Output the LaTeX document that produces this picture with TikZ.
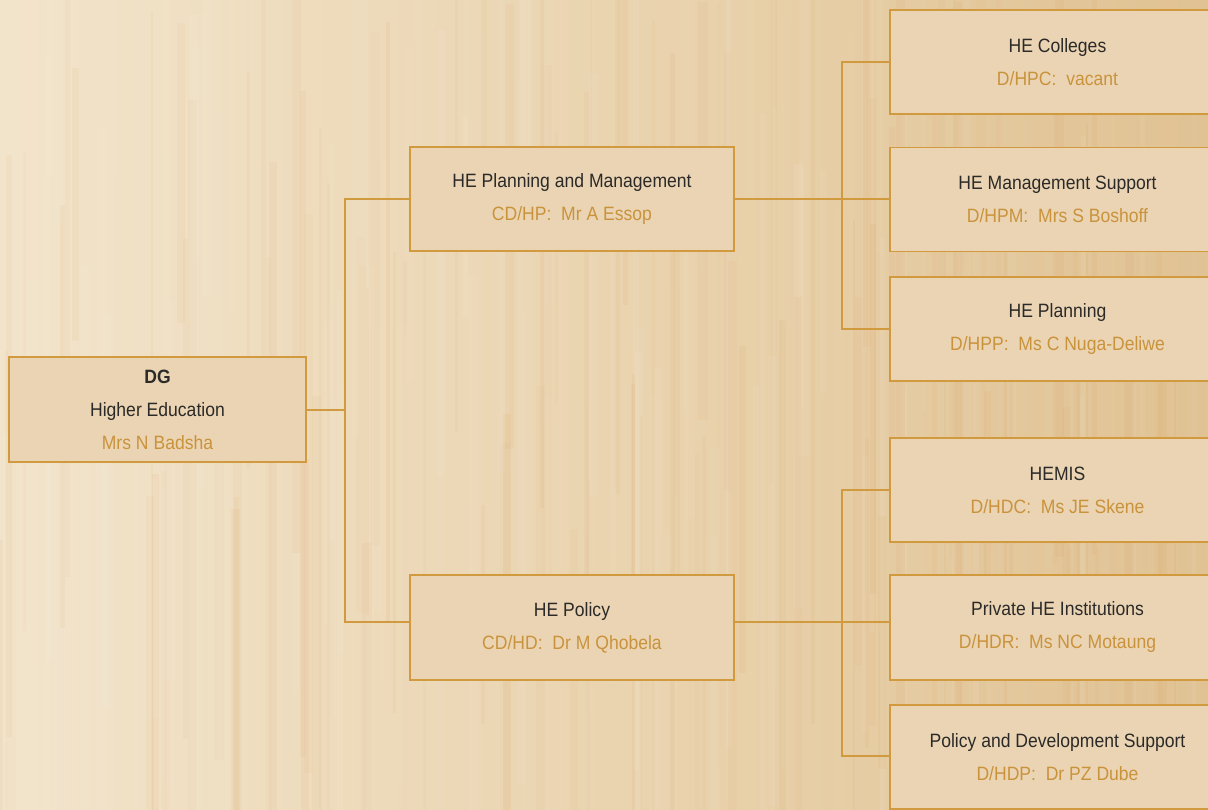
\documentclass[tikz,border=0pt]{standalone}
\usepackage{fontspec}
\setmainfont{Liberation Sans}[FakeStretch=0.91]
\definecolor{bord}{HTML}{D29A3E}
\definecolor{boxfill}{HTML}{EBD4B3}
\definecolor{nametxt}{HTML}{C9933C}
\definecolor{darktxt}{HTML}{2B2A28}
\definecolor{bgleft}{HTML}{F2E4CB}
\definecolor{bgmid}{HTML}{EAD4B0}
\definecolor{bgright}{HTML}{E0C293}
\newcommand{\nm}[1]{\textcolor{nametxt}{#1}}
\begin{document}
\begin{tikzpicture}[x=1pt,y=-1pt,
  box/.style={draw=bord, line width=1.3pt, fill=boxfill, inner sep=0pt,
    minimum width=#1, minimum height=104pt, align=center, text=darktxt,
    font=\fontsize{19.3}{33}\selectfont},
  conn/.style={draw=bord, line width=1.3pt}]
\useasboundingbox (0,0) rectangle (1208,809);
\clip (0,0) rectangle (1208,809);
\shade[left color=bgleft, right color=bgright, middle color=bgmid] (0,0) rectangle (1208,809);
\pgfmathsetseed{7}
\foreach \i in {1,...,260}{
  \pgfmathsetmacro{\xx}{rnd*1208}
  \pgfmathsetmacro{\ww}{2+rnd*8}
  \pgfmathsetmacro{\oo}{0.02+rnd*0.05}
  \pgfmathsetmacro{\yy}{rnd*700}
  \pgfmathsetmacro{\hh}{200+rnd*700}
  \pgfmathparse{rnd>0.5 ? 1 : 0}
  \ifnum\pgfmathresult=1
    \fill[white, opacity=\oo] (\xx,\yy-150) rectangle ++(\ww,\hh);
  \else
    \fill[brown!70!orange, opacity=\oo] (\xx,\yy-150) rectangle ++(\ww,\hh);
  \fi
}
% nodes
\node[box=297pt, minimum height=105pt] (dg) at (157.5,409.5) {\textbf{DG}\\Higher Education\\\nm{Mrs N Badsha}};
\node[box=324pt] (plan) at (572,199) {HE Planning and Management\\\nm{CD/HP:\ \ Mr A Essop}};
\node[box=324pt, minimum height=105pt] (pol) at (572,627.5) {HE Policy\\\nm{CD/HD:\ \ Dr M Qhobela}};
\node[box=335pt] (col) at (1057.5,62) {HE Colleges\\\nm{D/HPC:\ \ vacant}};
\node[box=335pt] (mgs) at (1057.5,199.5) {HE Management Support\\\nm{D/HPM:\ \ Mrs S Boshoff}};
\node[box=335pt] (hpl) at (1057.5,329) {HE Planning\\\nm{D/HPP:\ \ Ms C Nuga-Deliwe}};
\node[box=335pt] (hem) at (1057.5,490) {HEMIS\\\nm{D/HDC:\ \ Ms JE Skene}};
\node[box=335pt, minimum height=105pt] (pri) at (1057.5,627.5) {Private HE Institutions\\\nm{D/HDR:\ \ Ms NC Motaung}};
\node[box=335pt] (pds) at (1057.5,757) {Policy and Development Support\\\nm{D/HDP:\ \ Dr PZ Dube}};
% junctions
\coordinate (j1) at (345,410);
\coordinate (j2) at (842,199);
\coordinate (j3) at (842,622);
% connectors
\draw[conn] (dg.east |- j1) -- (j1);
\draw[conn] (j1) |- (plan.west);
\draw[conn] (j1) |- ([yshift=5.5pt]pol.west);
\draw[conn] (plan.east) -- (mgs.west |- plan.east);
\draw[conn] (j2) |- (col.west);
\draw[conn] (j2) |- (hpl.west);
\draw[conn] ([yshift=5.5pt]pol.east) -- ([yshift=5.5pt]pri.west);
\draw[conn] (j3) |- (hem.west);
\draw[conn] (j3) |- ([yshift=1pt]pds.west);
\end{tikzpicture}
\end{document}
